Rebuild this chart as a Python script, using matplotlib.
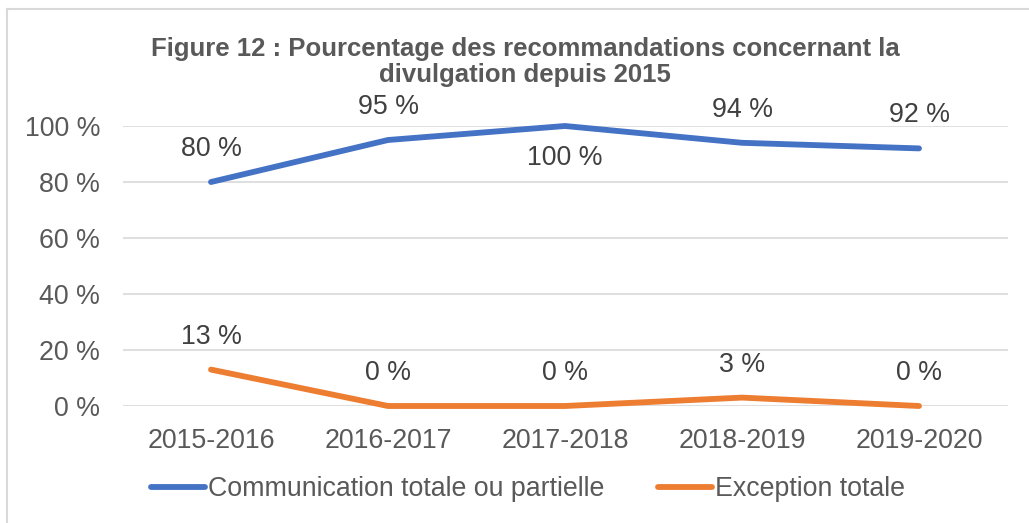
import matplotlib.pyplot as plt
from matplotlib.lines import Line2D

periods = ["2015-2016", "2016-2017", "2017-2018", "2018-2019", "2019-2020"]
communication = [80, 95, 100, 94, 92]
exception = [13, 0, 0, 3, 0]
comm_labels = ["80 %", "95 %", "100 %", "94 %", "92 %"]
exc_labels = ["13 %", "0 %", "0 %", "3 %", "0 %"]
yticks = [0, 20, 40, 60, 80, 100]

plt.rcParams['font.family'] = ['Liberation Sans', 'DejaVu Sans']
W, H = 1029, 523
fig = plt.figure(figsize=(W / 100, H / 100), dpi=100)
ax = fig.add_axes([122.5 / W, 1 - 406 / H, (1007.5 - 122.5) / W, 280 / H])

blue = "#4472C4"
orange = "#ED7D31"
grey = "#595959"
fs = 19.3
x = list(range(len(periods)))
ax.plot(x, communication, color=blue, lw=4.2, solid_capstyle="round", solid_joinstyle="round")
ax.plot(x, exception, color=orange, lw=4.2, solid_capstyle="round", solid_joinstyle="round")

# data labels above the points, below for the top value
for i, (v, lab) in enumerate(zip(communication, comm_labels)):
    off = -32 if v == max(communication) else 33
    ax.annotate(lab, (i, v), xytext=(0, off), textcoords="offset pixels",
                ha="center", va="center", fontsize=fs, color="#404040")
for i, (v, lab) in enumerate(zip(exception, exc_labels)):
    ax.annotate(lab, (i, v), xytext=(0, 33), textcoords="offset pixels",
                ha="center", va="center", fontsize=fs, color="#404040")

ax.set_xlim(-0.5, len(periods) - 0.5)
ax.set_ylim(0, 100)
ax.set_yticks(yticks)
ax.set_yticklabels([f"{t} %" for t in yticks])
ax.set_xticks(x)
ax.set_xticklabels(periods)
ax.tick_params(length=0, labelsize=fs, labelcolor=grey)
ax.tick_params(axis="x", pad=15.5)
ax.tick_params(axis="y", pad=16)
ax.grid(axis="y", color="#D9D9D9", lw=1.2)
ax.set_axisbelow(True)
for s in ax.spines.values():
    s.set_visible(False)
for ln in ax.lines:
    ln.set_clip_on(False)

fig.text(525 / W, 1 - 62 / H, "Figure 12 : Pourcentage des recommandations concernant la\ndivulgation depuis 2015",
         ha="center", va="center", fontsize=18.5, fontweight="bold", color=grey, linespacing=1.1)

handles = [Line2D([], [], color=blue, lw=4.2, solid_capstyle="round"),
           Line2D([], [], color=orange, lw=4.2, solid_capstyle="round")]
fig.legend(handles, ["Communication totale ou partielle", "Exception totale"],
           loc="center", bbox_to_anchor=(528 / W, 1 - 489 / H), ncol=2, frameon=False,
           fontsize=fs, labelcolor=grey, handlelength=2.0, handletextpad=0.12,
           columnspacing=2.0)

fig.add_artist(Line2D([7 / W, 1], [1 - 9 / H, 1 - 9 / H], color="#D9D9D9", lw=1.5))
fig.add_artist(Line2D([7 / W, 7 / W], [0, 1 - 9 / H], color="#D9D9D9", lw=1.5))

fig.savefig("out.png", dpi=100)
